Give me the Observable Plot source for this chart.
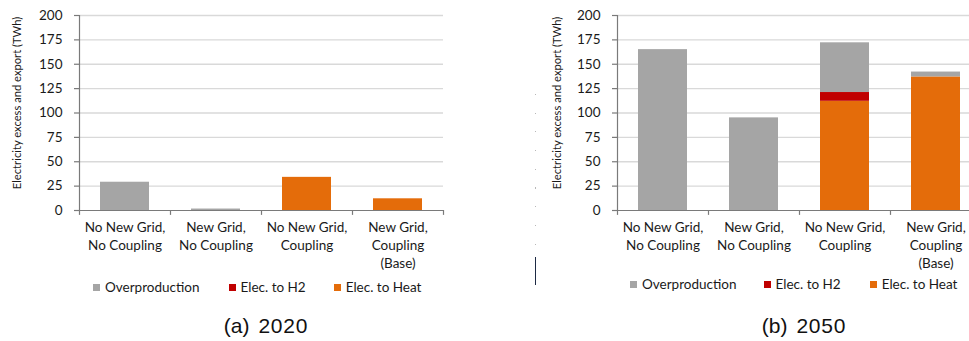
<!DOCTYPE html>
<html>
<head>
<meta charset="utf-8">
<script src="https://cdn.jsdelivr.net/npm/d3@7"></script>
<script src="https://cdn.jsdelivr.net/npm/@observablehq/plot@0.6"></script>
<style>
  html, body { margin: 0; padding: 0; background: #fff; }
  body { width: 969px; height: 341px; overflow: hidden; position: relative; font-family: Lato, "Open Sans", sans-serif; }
  .panel { position: absolute; top: 0; }
  .panel svg { max-width: none !important; }
  .legend { position: absolute; display: flex; align-items: center; font-size: 13.5px; color: #1a1a1a; white-space: nowrap; }
  .legend .item { display: flex; align-items: center; }
  .legend .sw { width: 7px; height: 7px; margin-right: 5px; }
  .caption { position: absolute; font-family: "Liberation Sans", sans-serif; font-size: 21px; color: #111; transform: translate(-50%, -50%); white-space: nowrap; }
  .caption .tag { margin-right: 9px; }
  .caption .year { letter-spacing: 0.8px; }
  .divider-dots { position: absolute; left: 535px; top: 94px; width: 1px; height: 158px;
    background: repeating-linear-gradient(to bottom, #b8b8b8 0 1px, transparent 1px 18.7px); }
  .divider-line { position: absolute; left: 535px; top: 257px; width: 1.3px; height: 28px; background: #1d2a44; }
</style>
</head>
<body>
<div id="a" class="panel" style="left:0px; width:460px"></div>
<div id="b" class="panel" style="left:500px; width:490px"></div>
<div class="divider-dots"></div>
<div class="divider-line"></div>
<div id="legend-a" class="legend" style="left:93px; top:279px"></div>
<div id="legend-b" class="legend" style="left:630px; top:276px"></div>
<div class="caption" style="left:266px; top:326px"><span class="tag">(a)</span><span class="year">2020</span></div>
<div class="caption" style="left:804px; top:326px"><span class="tag">(b)</span><span class="year">2050</span></div>
<script>
// Scenarios on the x axis (line breaks are drawn as wrapped labels)
const scenarios = [
  "No New Grid,\nNo Coupling",
  "New Grid,\nNo Coupling",
  "No New Grid,\nCoupling",
  "New Grid,\nCoupling\n(Base)"
];
// Series as listed in the legend
const seriesNames = ["Overproduction", "Elec. to H2", "Elec. to Heat"];
const seriesColors = ["#A5A5A5", "#C00000", "#E46C0A"];
// Stacking order, bottom first
const stackOrder = ["Elec. to Heat", "Elec. to H2", "Overproduction"];

// Electricity excess and export (TWh), per scenario
const over2020 = [29, 1.5, 0, 0];
const h2_2020 = [0, 0, 0, 0];
const heat2020 = [0, 0, 34, 12];

const over2050 = [165, 95, 51, 5];
const h2_2050 = [0, 0, 9, 0];
const heat2050 = [0, 0, 112, 137];

const yTicks = [0, 25, 50, 75, 100, 125, 150, 175, 200];
const yLabel = "Electricity excess and export (TWh)";

function table(over, h2, heat) {
  const rows = [];
  scenarios.forEach((s, i) => {
    rows.push({scenario: s, series: "Elec. to Heat", value: heat[i]});
    rows.push({scenario: s, series: "Elec. to H2", value: h2[i]});
    rows.push({scenario: s, series: "Overproduction", value: over[i]});
  });
  return rows;
}

function chart(rows, {width, marginLeft, marginRight, labelOffset}) {
  const step = (width - marginLeft - marginRight) / scenarios.length;
  const half = step / 2;
  const axisColor = "#7a7a7a";
  return Plot.plot({
    width,
    height: 278,
    marginTop: 15,
    marginBottom: 68,
    marginLeft,
    marginRight,
    style: {fontFamily: "Lato, 'Open Sans', sans-serif", color: "#1a1a1a", background: "transparent"},
    x: {domain: scenarios, padding: 0, axis: null},
    y: {domain: [0, 200], axis: null},
    color: {domain: seriesNames, range: seriesColors},
    marks: [
      Plot.ruleY(yTicks.filter(d => d > 0), {stroke: "#d9d9d9", strokeWidth: 1.3}),
      Plot.barY(rows, Plot.stackY({
        order: stackOrder,
        x: "scenario", y: "value", fill: "series",
        insetLeft: 21, insetRight: 21
      })),
      Plot.ruleY([0], {stroke: axisColor, strokeWidth: 1.2}),
      // Category boundary ticks; the first one doubles as the value axis line
      Plot.ruleX(scenarios, {x: d => d, dx: -half, y1: -5, y2: (d, i) => i === 0 ? 200 : 0, stroke: axisColor, strokeWidth: 1.2}),
      Plot.ruleX(scenarios.slice(-1), {x: d => d, dx: half, y1: -5, y2: 0, stroke: axisColor, strokeWidth: 1.2}),
      Plot.axisY({ticks: yTicks, tickSize: 5, tickPadding: 12, fontSize: 13.5, label: null, stroke: axisColor, strokeWidth: 1.2}),
      Plot.axisX({tickSize: 0, tickPadding: 9, fontSize: 13.5, lineHeight: 1.33, label: null}),
      Plot.text([yLabel], {frameAnchor: "left", textAnchor: "middle", rotate: -90, dx: -labelOffset, dy: -10, fontSize: 11.2, fill: "#1a1a1a"})
    ]
  });
}

document.getElementById("a").appendChild(
  chart(table(over2020, h2_2020, heat2020), {width: 460, marginLeft: 79, marginRight: 17, labelOffset: 62})
);
document.getElementById("b").appendChild(
  chart(table(over2050, h2_2050, heat2050), {width: 490, marginLeft: 117, marginRight: 9, labelOffset: 60})
);

function legend(id, gaps) {
  const el = document.getElementById(id);
  seriesNames.forEach((name, i) => {
    const item = document.createElement("div");
    item.className = "item";
    if (i > 0) item.style.marginLeft = gaps[i - 1] + "px";
    const sw = document.createElement("div");
    sw.className = "sw";
    sw.style.background = seriesColors[i];
    const label = document.createElement("span");
    label.textContent = name;
    item.appendChild(sw);
    item.appendChild(label);
    el.appendChild(item);
  });
}
legend("legend-a", [29, 28]);
legend("legend-b", [27, 29]);
</script>
</body>
</html>
